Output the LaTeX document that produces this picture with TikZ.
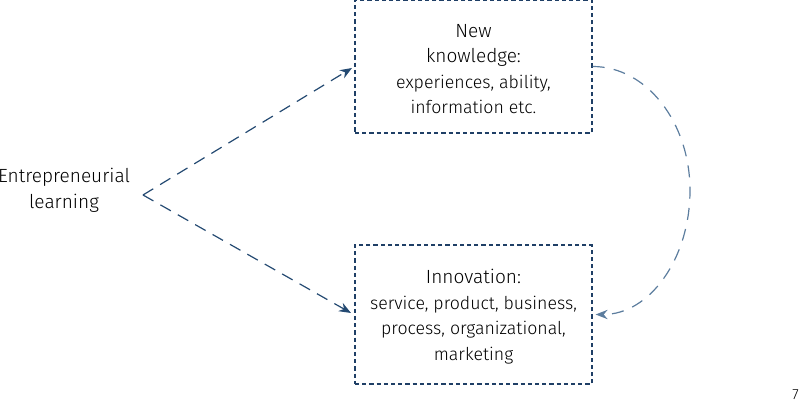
\documentclass[tikz,border=0pt]{standalone}
\usepackage{fontspec}
\setmainfont{Fira Sans}[UprightFont=* Light]
\usetikzlibrary{arrows.meta}
\definecolor{boxblue}{HTML}{1F3F66}
\definecolor{arrowblue}{HTML}{244A72}
\definecolor{curveblue}{HTML}{5C7D9E}
\tikzset{
  box/.style={draw=boxblue, line width=0.9pt, dash pattern=on 3.2pt off 2.2pt,
    minimum width=237*0.75pt, minimum height=0pt, align=center, inner sep=0pt},
  link/.style={draw=arrowblue, line width=0.9pt, dash pattern=on 9pt off 6pt,
    -{Stealth[length=9pt,width=7pt]}},
  loop/.style={draw=curveblue, line width=0.9pt, dash pattern=on 9pt off 7pt,
    -{Stealth[length=9pt,width=7pt]}},
  lbl/.style={font=\fontsize{13.3}{19.2}\selectfont, align=center, inner sep=0pt}
}
\begin{document}
\begin{tikzpicture}[x=0.75pt,y=-0.75pt]
\useasboundingbox (0,0) rectangle (800,402);
\node[box, minimum height=133*0.75pt] (know) at (473.5,66.5) {};
\node[lbl] (knowtext) at (473.5,69) {{\fontsize{14.3}{19.2}\selectfont New}\\{\fontsize{14.3}{19.2}\selectfont knowledge:}\\experiences, ability,\\information etc.};
\node[box, minimum height=139*0.75pt] (inno) at (473.5,314.5) {};
\node[lbl] (innotext) at (473.5,316.5) {{\fontsize{14.3}{19.2}\selectfont Innovation:}\\service, product, business,\\process, organizational,\\marketing};
\node[lbl, font=\fontsize{14.3}{19.5}\selectfont] (ent) at (64,190) {Entrepreneurial\\learning};
\coordinate (src) at (143,195);
\draw[link] (src) -- (352,68) coordinate (kin);
\draw[link] (src) -- (351,313) coordinate (iin);
\draw[loop] (know.east) .. controls +(54,0) and +(0,-68) .. (690,190.5) coordinate (mid)
  .. controls +(0,68) and +(54,0) .. ([xshift=3*0.75pt]inno.east);
\node[font=\fontsize{11}{13}\selectfont, anchor=east, inner sep=0pt] (page) at (799,395) {7};
\end{tikzpicture}
\end{document}
